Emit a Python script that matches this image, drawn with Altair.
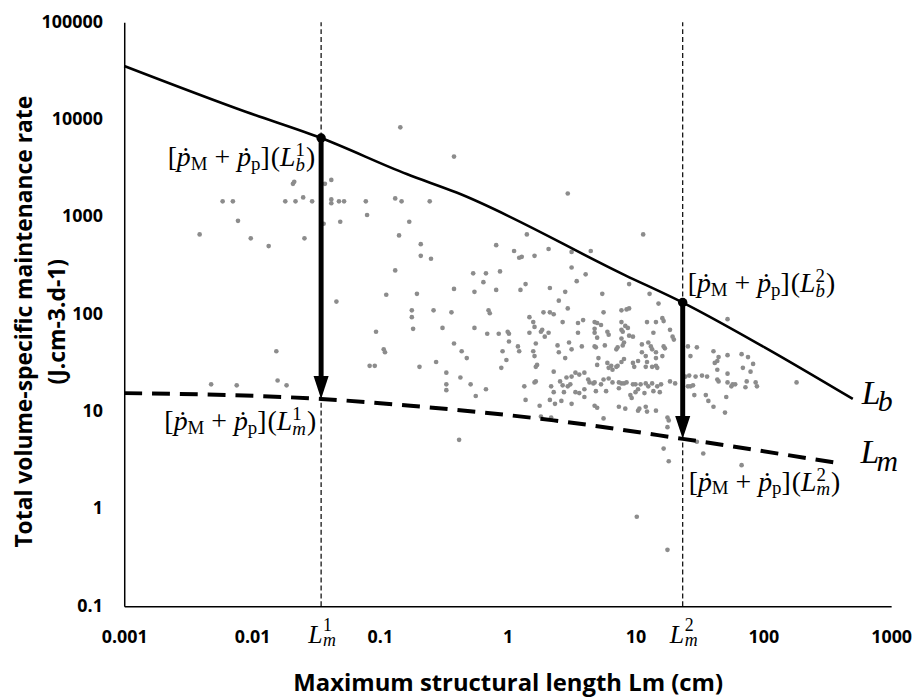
import altair as alt
import pandas as pd

# ---------------- data (log10 values) ----------------
x_ticks = [0.001, 0.01, 0.1, 1, 10, 100, 1000]
y_ticks = [0.1, 1, 10, 100, 1000, 10000, 100000]

# L_b curve (solid) and L_m curve (dashed): log10(Lm), log10(rate)
lb_log_len = [-3.00, -2.05, -1.46, -0.79, -0.40, 0.92, 1.37, 2.01, 2.70]
lb_log_rate = [4.55, 4.08, 3.81, 3.44, 3.25, 2.40, 2.12, 1.66, 1.13]
lm_log_len = [-3.00, -1.46, -0.76, 0.36, 1.37, 2.59]
lm_log_rate = [1.19, 1.13, 1.06, 0.91, 0.72, 0.47]

# the two example lengths and the rates at L_b and L_m
ex_len = [0.0347, 23.4]
ex_rate_lb = [6460, 132]
ex_rate_lm = [13.5, 5.25]

# species (log10 Lm, log10 rate)
pts_a = [(-2.41, 2.82), (-2.32, 1.28), (-2.23, 3.16), (-2.15, 3.16), (-2.12, 1.27), (-2.11, 2.96),
         (-2.01, 2.78), (-1.87, 2.70), (-1.81, 1.62), (-1.80, 1.32), (-1.74, 3.16), (-1.73, 1.27),
         (-1.68, 3.34), (-1.67, 3.36), (-1.66, 3.16), (-1.60, 3.20), (-1.59, 2.78), (-1.53, 3.16),
         (-1.44, 2.93), (-1.43, 3.34), (-1.38, 3.38), (-1.38, 3.18), (-1.38, 3.14), (-1.34, 2.13),
         (-1.32, 3.16), (-1.31, 2.95), (-1.28, 3.16), (-1.11, 3.16), (-1.10, 3.02), (-1.08, 1.47),
         (-1.04, 1.47), (-1.03, 1.82), (-0.97, 1.64), (-0.96, 1.61), (-0.95, 2.20)]
pts_b = [(-0.88, 3.19), (-0.88, 2.45), (-0.84, 3.92), (-0.83, 3.16), (-0.85, 2.81), (-0.77, 2.95),
         (-0.61, 3.16), (-0.42, 3.62), (-0.68, 2.72), (-0.68, 2.60), (-0.60, 2.57), (-0.75, 2.04),
         (-0.75, 1.97), (-0.74, 1.85), (-0.71, 2.21), (-0.58, 2.04), (-0.51, 1.86), (-0.44, 2.02),
         (-0.42, 2.26), (-0.42, 1.70), (-0.36, 1.62), (-0.32, 1.55), (-0.56, 1.51), (-0.69, 1.46),
         (-0.48, 1.40), (-0.37, 1.35), (-0.48, 1.28), (-0.48, 1.22), (-0.38, 0.71)]
pts_c = [(-0.29, 1.28), (-0.27, 2.42), (-0.26, 2.23), (-0.26, 1.86), (-0.25, 1.16), (-0.19, 2.33),
         (-0.17, 2.42), (-0.17, 1.23), (-0.16, 1.80), (-0.15, 2.04), (-0.14, 2.01), (-0.09, 2.71),
         (-0.09, 2.25), (-0.07, 1.80), (-0.06, 2.44), (-0.05, 1.45), (-0.04, 1.62), (-0.01, 1.53),
         (0.00, 1.82), (0.01, 1.80), (0.01, 1.72), (0.05, 2.65), (0.08, 1.67), (0.09, 2.58),
         (0.11, 2.59), (0.09, 1.62), (0.10, 2.25), (0.14, 2.31), (0.13, 1.26), (0.14, 1.12),
         (0.15, 2.82), (0.17, 1.97), (0.20, 1.92), (0.21, 1.87), (0.17, 1.81), (0.21, 2.60),
         (0.20, 1.62), (0.21, 1.57), (0.22, 1.70), (0.22, 1.46), (0.23, 1.48), (0.21, 1.30),
         (0.22, 1.31), (0.25, 1.06), (0.26, 0.95), (0.27, 1.84), (0.26, 1.82), (0.28, 2.02),
         (0.33, 2.02), (0.29, 1.77), (0.32, 1.81), (0.32, 2.67), (0.33, 2.27), (0.33, 1.12),
         (0.34, 1.26), (0.34, 0.94), (0.36, 2.00), (0.36, 1.41), (0.36, 1.20), (0.37, 1.08)]
pts_d = [(0.39, 1.68), (0.40, 2.14), (0.40, 1.61), (0.41, 1.31), (0.43, 1.27), (0.47, 1.26),
         (0.49, 1.28), (0.42, 1.11), (0.45, 2.23), (0.43, 1.92), (0.45, 1.55), (0.44, 1.20),
         (0.47, 3.24), (0.47, 2.06), (0.48, 1.71), (0.50, 2.48), (0.50, 1.64), (0.50, 1.08),
         (0.50, 2.64), (0.53, 1.40), (0.56, 1.38), (0.46, 1.35), (0.50, 1.36), (0.54, 2.34),
         (0.55, 1.91), (0.55, 1.81), (0.53, 1.20), (0.56, 1.19), (0.60, 1.23), (0.58, 1.67),
         (0.59, 1.94), (0.60, 1.40), (0.60, 1.15), (0.61, 2.41), (0.63, 1.33), (0.64, 1.30),
         (0.65, 2.65), (0.67, 1.29), (0.68, 1.30), (0.69, 1.21), (0.68, 1.67), (0.69, 1.66),
         (0.68, 1.06), (0.70, 1.04), (0.68, 1.92), (0.70, 1.91), (0.68, 1.85), (0.68, 1.81),
         (0.70, 1.76), (0.70, 1.48), (0.71, 1.55), (0.73, 1.89), (0.73, 1.28), (0.74, 2.21),
         (0.75, 1.33), (0.75, 2.02), (0.75, 0.93), (0.76, 1.68), (0.77, 1.21), (0.78, 1.50),
         (0.79, 1.45), (0.78, 1.82), (0.79, 1.79), (0.79, 1.34)]
pts_e = [(0.81, 1.47), (0.82, 1.43), (0.85, 1.46), (0.86, 1.47), (0.82, 1.30), (0.85, 1.64),
         (0.86, 1.66), (0.87, 1.30), (0.89, 1.29), (0.91, 1.29), (0.93, 1.30), (0.87, 1.24),
         (0.87, 1.05), (0.92, 1.03), (0.89, 2.04), (0.89, 1.92), (0.89, 1.84), (0.89, 1.75),
         (0.89, 1.51), (0.91, 1.54), (0.90, 1.82), (0.90, 1.68), (0.91, 1.71), (0.92, 1.88),
         (0.94, 1.86), (0.93, 2.05), (0.95, 2.06), (0.95, 1.78), (0.95, 2.31), (0.96, 1.17),
         (0.97, 1.14), (0.98, 1.77), (0.98, 1.50), (0.99, 1.46), (0.98, 1.28)]
pts_f = [(1.00, 1.28), (1.04, 1.28), (1.08, 1.29), (1.10, 1.26), (1.13, 1.29), (1.17, 1.26),
         (1.20, 1.28), (1.00, 1.20), (1.02, 1.23), (1.01, -0.08), (1.02, 1.01), (1.03, 1.03),
         (1.02, 1.52), (1.05, 1.69), (1.05, 1.61), (1.06, 2.82), (1.07, 1.19), (1.08, 1.57),
         (1.08, 1.46), (1.08, 1.05), (1.09, 1.92), (1.09, 1.51), (1.09, 1.00), (1.10, 1.71),
         (1.11, 2.21), (1.12, 1.67), (1.13, 1.64), (1.13, 1.46), (1.14, 1.81), (1.14, 1.21),
         (1.16, 1.55), (1.16, 1.47), (1.16, 1.01), (1.16, 1.92), (1.16, 1.61), (1.17, 1.45),
         (1.18, 2.11), (1.19, 1.20), (1.21, 1.96), (1.22, 1.93), (1.21, 1.57), (1.22, 1.67),
         (1.23, 1.65), (1.22, 0.62), (1.25, 0.94), (1.26, 0.91), (1.25, 0.84), (1.26, 0.49),
         (1.25, -0.42), (1.27, 1.84), (1.27, 1.31), (1.31, 1.29), (1.29, 1.77), (1.30, 1.74)]
pts_g = [(1.39, 1.36), (1.41, 1.26), (1.41, 1.67), (1.42, 1.37), (1.43, 1.57), (1.43, 1.26),
         (1.45, 1.27), (1.46, 1.17), (1.47, 1.36), (1.48, 1.66), (1.48, 0.69), (1.52, 1.37),
         (1.53, 0.57), (1.55, 1.17), (1.56, 1.36), (1.57, 1.11), (1.61, 1.62), (1.61, 1.05),
         (1.62, 1.50), (1.64, 1.52), (1.65, 1.56), (1.64, 1.43), (1.64, 1.33), (1.65, 1.31),
         (1.70, 0.99), (1.71, 1.15), (1.72, 1.95), (1.72, 1.39), (1.72, 1.58), (1.72, 1.30),
         (1.75, 1.26), (1.76, 1.28), (1.78, 1.28), (1.83, 1.59), (1.83, 0.45), (1.84, 1.45),
         (1.86, 1.25), (1.87, 1.31), (1.88, 1.56), (1.90, 1.41), (1.92, 1.49), (1.94, 1.30),
         (1.95, 1.26), (2.26, 1.30)]

# ---------------- tables ----------------
all_pts = pts_a + pts_b + pts_c + pts_d + pts_e + pts_f + pts_g
df_pts = pd.DataFrame({"x": [10 ** p[0] for p in all_pts], "y": [10 ** p[1] for p in all_pts]})
df_lb = pd.DataFrame({"x": [10 ** v for v in lb_log_len], "y": [10 ** v for v in lb_log_rate]})
df_lm = pd.DataFrame({"x": [10 ** v for v in lm_log_len], "y": [10 ** v for v in lm_log_rate]})
df_v = pd.DataFrame({"x": ex_len, "y": [y_ticks[0]] * 2, "y2": [y_ticks[-1]] * 2})
df_arrow = pd.DataFrame({"x": ex_len, "y": ex_rate_lb, "y2": ex_rate_lm})
df_dot = pd.DataFrame({"x": ex_len, "y": ex_rate_lb})
df_head = pd.DataFrame({"x": ex_len, "y": ex_rate_lm})

SANS = "Open Sans"
SERIF = "Liberation Serif, DejaVu Serif, serif"
DOTP = "\u1e57"

xs = alt.Scale(type="log", domain=[x_ticks[0], x_ticks[-1]], nice=False)
ys = alt.Scale(type="log", domain=[y_ticks[0], y_ticks[-1]], nice=False)

x_axis = alt.Axis(values=x_ticks, labelExpr="format(datum.value, '~g')", grid=False, ticks=False, tickSize=0,
                  domainColor="black", domainWidth=1.5, labelFont=SANS, labelFontWeight="bold",
                  labelFontSize=18, labelColor="black", labelPadding=31, labelBaseline="middle",
                  labelFlush=False, labelOverlap=False,
                  title="Maximum structural length Lm (cm)", titleFont=SANS, titleFontWeight="bold",
                  titleFontSize=24, titleColor="black", titleX=386, titleY=85,
                  titleBaseline="alphabetic", titleAlign="center")
y_axis = alt.Axis(values=y_ticks, labelExpr="format(datum.value, '~g')", grid=False, ticks=False, tickSize=0,
                  domainColor="black", domainWidth=1.5, labelFont=SANS, labelFontWeight="bold",
                  labelFontSize=18, labelColor="black", labelPadding=22, labelFlush=False,
                  labelOverlap=False,
                  title=["Total volume-specific maintenance rate", "(J.cm-3.d-1)"], titleFont=SANS,
                  titleFontWeight="bold", titleFontSize=23, titleColor="black", titleAngle=270,
                  titleX=-100, titleY=301, titleAlign="center", titleBaseline="middle",
                  titleLineHeight=33)

X = alt.X("x:Q", scale=xs, axis=x_axis)
Y = alt.Y("y:Q", scale=ys, axis=y_axis)

scatter = alt.Chart(df_pts).mark_circle(size=22, color="#8c8c8c", opacity=1).encode(x=X, y=Y)
vlines = alt.Chart(df_v).mark_rule(color="black", strokeWidth=1.2, strokeDash=[5, 3]).encode(
    x=X, y=Y, y2=alt.Y2("y2:Q"))
lb_line = alt.Chart(df_lb).mark_line(color="black", strokeWidth=2.6, interpolate="monotone").encode(x=X, y=Y)
lm_line = alt.Chart(df_lm).mark_line(color="black", strokeWidth=4, strokeDash=[18, 10],
                                     interpolate="monotone").encode(x=X, y=Y)
arrows = alt.Chart(df_arrow).mark_rule(color="black", strokeWidth=5, y2Offset=-12).encode(
    x=X, y=Y, y2=alt.Y2("y2:Q"))
heads = alt.Chart(df_head).mark_point(shape="M-0.33,-1L0.33,-1L0,0Z", size=2116, filled=True,
                                      color="black", opacity=1, strokeWidth=0).encode(x=X, y=Y)
dots = alt.Chart(df_dot).mark_circle(size=90, color="black", opacity=1).encode(x=X, y=Y)

EM = {"[": 0.333, "]": 0.333, "(": 0.333, ")": 0.333, "+": 0.564, "M": 0.889, "p": 0.5, DOTP: 0.5,
      "L": 0.556, "b": 0.5, "m": 0.722, "1": 0.5, "2": 0.5, " ": 0.25}


def text_piece(xv, yv, txt, dx, dy, size, italic):
    df = pd.DataFrame({"x": [xv], "y": [yv], "t": [txt]})
    return alt.Chart(df).mark_text(
        align="left", baseline="alphabetic", dx=round(dx, 1), dy=round(dy, 1), font=SERIF,
        fontSize=size, fontStyle="italic" if italic else "normal", color="black"
    ).encode(x=X, y=Y, text="t:N")


def bracket_label(xv, yv, sup, sub, edge, side, base_dy, F=28, S=19):
    parts = []
    cur = [0.0]

    def put(t, size, italic, ddy):
        parts.append((t, cur[0], ddy, size, italic))
        cur[0] += EM[t] * size

    put("[", F, False, 0)
    put(DOTP, F, True, 0)
    put("M", S, False, 4)
    cur[0] += EM[" "] * F
    put("+", F, False, 0)
    cur[0] += EM[" "] * F
    put(DOTP, F, True, 0)
    put("p", S, False, 4)
    put("]", F, False, 0)
    cur[0] += 1
    put("(", F, False, 0)
    put("L", F, True, 0)
    xs_ = cur[0]
    parts.append((sup, xs_, -10, S, False))
    parts.append((sub, xs_, 5, S, True))
    cur[0] = xs_ + max(EM[sup], EM[sub]) * S + 1
    put(")", F, False, 0)
    start = edge - cur[0] if side == "left" else edge
    return [text_piece(xv, yv, t, start + off, base_dy + ddy, size, it) for t, off, ddy, size, it in parts]


texts = []
texts += bracket_label(ex_len[0], ex_rate_lb[0], "1", "b", -6, "left", 28)
texts += bracket_label(ex_len[0], ex_rate_lm[0], "1", "m", -5, "left", 31)
texts += bracket_label(ex_len[1], ex_rate_lb[1], "2", "b", 5, "right", -11)
texts += bracket_label(ex_len[1], ex_rate_lm[1], "2", "m", 6, "right", 52)

# L_m^1, L_m^2 below the x axis
for i, sup in enumerate(["1", "2"]):
    texts.append(text_piece(ex_len[i], y_ticks[0], "L", -13, 37, 26, True))
    texts.append(text_piece(ex_len[i], y_ticks[0], sup, 2, 25, 18, False))
    texts.append(text_piece(ex_len[i], y_ticks[0], "m", 2, 40, 18, True))

# curve names at the right ends
lb_end = (10 ** lb_log_len[-1], 10 ** lb_log_rate[-1])
lm_end = (10 ** lm_log_len[-1], 10 ** lm_log_rate[-1])
texts.append(text_piece(lb_end[0], lb_end[1], "L", 9, 5, 34, True))
texts.append(text_piece(lb_end[0], lb_end[1], "b", 25, 12, 30, True))
texts.append(text_piece(lm_end[0], lm_end[1], "L", 22, 0, 34, True))
texts.append(text_piece(lm_end[0], lm_end[1], "m", 38, 8, 30, True))

chart = alt.layer(scatter, vlines, lb_line, lm_line, arrows, heads, dots, *texts).properties(
    width=772, height=588,
    padding={"left": 117, "top": 12, "right": 22, "bottom": 91},
    autosize=alt.AutoSizeParams(type="none"),
).configure_view(strokeWidth=0)

chart.save("out.html", embed_options={"renderer": "svg", "actions": False})
